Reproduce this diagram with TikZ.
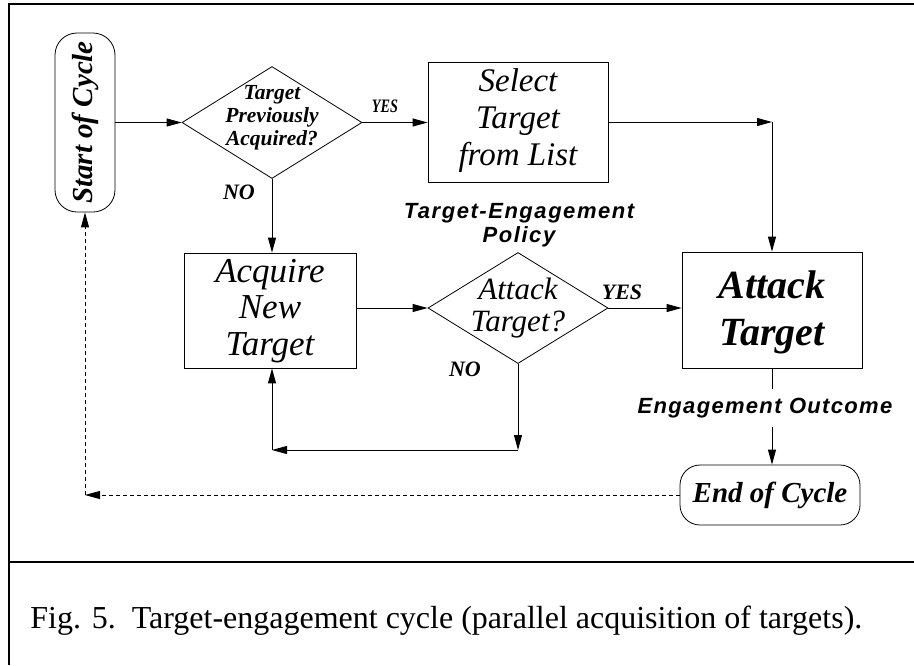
\documentclass[tikz,border=0pt]{standalone}
\usepackage{fontspec}
\setmainfont{Liberation Serif}
\newfontfamily\sansf{Liberation Sans}
\usetikzlibrary{shapes.geometric,arrows.meta}
\begin{document}
\begin{tikzpicture}[x=1pt,y=-1pt,
  line width=0.9pt,
  >={Triangle[length=15pt,width=8pt]},
  frame/.style={line width=2pt},
  box/.style={draw, rectangle, inner sep=0pt, line width=0.8pt},
  dia/.style={draw, diamond, inner sep=0pt, line width=0.8pt},
  term/.style={draw, rectangle, rounded corners=22pt, inner sep=0pt, line width=0.8pt},
  txt/.style={inner sep=0pt, align=center},
  conn/.style={->},
  back/.style={->, dash pattern=on 4pt off 3pt}
]
\useasboundingbox (0,0) rectangle (914,665);
% frame
\coordinate (f1) at (9,4);
\coordinate (f2) at (914,4);
\coordinate (f3) at (9,665);
\coordinate (f4) at (9,562);
\coordinate (f5) at (914,562);
\draw[frame] (f2) -- (f1) -- (f3);
\draw[frame] (f4) -- (f5);

% nodes
\node[term, minimum width=60pt, minimum height=179pt] (start) at (85,122.5) {};
\node[txt, rotate=90, font=\fontsize{29}{32}\selectfont\bfseries\itshape] (startt) at (85,122.5) {Start of Cycle};

\node[dia, minimum width=180pt, minimum height=112pt] (d1) at (272,122.5) {};
\node[txt, font=\fontsize{21.5}{23}\selectfont\bfseries\itshape] (d1t) at (272,118) {Target\\Previously\\Acquired?};

\node[box, minimum width=180pt, minimum height=120pt] (sel) at (518,122) {};
\node[txt, font=\fontsize{33}{37}\selectfont\itshape] (selt) at (518,121) {Select\\Target\\from List};

\node[box, minimum width=172pt, minimum height=115pt] (acq) at (270,310.5) {};
\node[txt, font=\fontsize{35}{36.5}\selectfont\itshape] (acqt) at (270,311) {Acquire\\New\\Target};

\node[dia, minimum width=180pt, minimum height=111pt] (d2) at (518,308) {};
\node[txt, font=\fontsize{31}{32}\selectfont\itshape] (d2t) at (518,308) {Attack\\Target?};

\node[box, minimum width=180pt, minimum height=116pt] (att) at (772,310) {};
\node[txt, font=\fontsize{40}{47}\selectfont\bfseries\itshape] (attt) at (772,312) {Attack\\Target};

\node[term, minimum width=180pt, minimum height=60pt, rounded corners=20pt] (end) at (770,495) {};
\node[txt, font=\fontsize{29}{32}\selectfont\bfseries\itshape] (endt) at (770,495) {End of Cycle};

% labels
\node[txt, font=\fontsize{19}{21}\selectfont\bfseries\itshape] (yes1) at (385,106) {\scalebox{0.75}[1]{YES}};
\node[txt, font=\fontsize{22}{24}\selectfont\bfseries\itshape] (no1) at (239,192) {NO};
\node[txt, font=\fontsize{22}{24}\selectfont\bfseries\itshape] (yes2) at (622,292) {YES};
\node[txt, font=\fontsize{22}{24}\selectfont\bfseries\itshape] (no2) at (465,369) {NO};
\node[txt, font=\sansf\fontsize{22}{24}\selectfont\bfseries\itshape\addfontfeatures{LetterSpace=7}] (tep) at (519,225) {Target-Engagement\\Policy};
\node[inner sep=0pt, minimum height=38pt, font=\sansf\fontsize{22}{24}\selectfont\bfseries\itshape\addfontfeatures{LetterSpace=6}] (eo) at (765,408) {Engagement Outcome};

\node[inner sep=0pt, anchor=base west, font=\fontsize{32}{36}\selectfont] (cap) at (30,628) {Fig. 5.\ \ Target-engagement cycle (parallel acquisition of targets).};

% coordinates
\coordinate (c1) at (772,122);
\coordinate (c2) at (518,450);
\coordinate (c3) at (272,450);
\coordinate (c4) at (85,495);

% connectors
\draw[conn] (start.east |- d1.west) -- (d1.west);
\draw[conn] (d1.east) -- (d1.east -| sel.west);
\draw[conn] (sel.east) -- (c1);
\draw[conn] (c1) -- (att.north);
\draw[conn] (d1.south) -- (d1.south |- acq.north);
\draw[conn] (acq.east |- d2.west) -- (d2.west);
\draw[conn] (d2.east) -- (d2.east -| att.west);
\draw[conn] (d2.south) -- (c2);
\draw[conn] (c2) -- (c3);
\draw[conn] (c3) -- (c3 |- acq.south);
\draw (att.south) -- (att.south |- eo.north);
\draw[conn] (att.south |- eo.south) -- (att.south |- end.north);
\draw[back] (end.west) -- (c4);
\draw[back] (c4) -- (start.south);
\end{tikzpicture}
\end{document}
